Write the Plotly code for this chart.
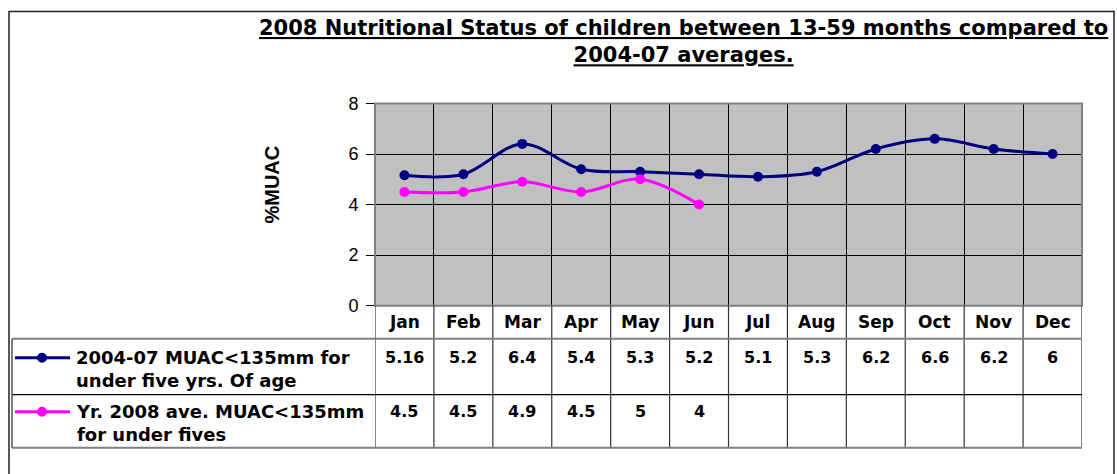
import plotly.graph_objects as go

months = ["Jan", "Feb", "Mar", "Apr", "May", "Jun", "Jul", "Aug", "Sep", "Oct", "Nov", "Dec"]
avg_0407 = [5.16, 5.2, 6.4, 5.4, 5.3, 5.2, 5.1, 5.3, 6.2, 6.6, 6.2, 6]
yr_2008 = [4.5, 4.5, 4.9, 4.5, 5, 4, None, None, None, None, None, None]
series_names = ["2004-07 MUAC&lt;135mm for<br>under five yrs. Of age",
                "Yr. 2008 ave. MUAC&lt;135mm<br>for under fives"]
series_colors = ["#000080", "#FF00FF"]
y_ticks = [0, 2, 4, 6, 8]
title_lines = ["2008 Nutritional Status of children between 13-59 months compared to",
               "2004-07 averages."]

W, H = 1117, 474
# the photographed page shows figure rows compressed (y_screen ~ 9.6 + 0.957*y_fig);
# positions below are given in screen pixels and mapped back.
def px(x):
    return x / W
def py(y):
    yf = (y - 9.6) / 0.957
    return 1 - yf / H

PL, PR, PT, PB = 375, 1082, 103, 305   # plot area in screen pixels
ROW_TOP = [338, 394]
TBL_BOT = 447
ROW_CENTER = [357, 411]
BOLD = "DejaVu Sans"

xs = list(range(len(months)))
fig = go.Figure()
for vals, col in zip([avg_0407, yr_2008], series_colors):
    fig.add_trace(go.Scatter(
        x=xs, y=vals, mode="lines+markers",
        line=dict(color=col, width=3, shape="spline", smoothing=1),
        marker=dict(color=col, size=10),
        connectgaps=False, showlegend=False, hoverinfo="skip"))

shapes = []
annotations = []

# outer chart border
shapes.append(dict(type="rect", xref="paper", yref="paper",
                   x0=px(9), x1=px(1114), y0=py(500), y1=py(11),
                   line=dict(color="#222222", width=1.5)))
# plot border
shapes.append(dict(type="rect", xref="paper", yref="paper",
                   x0=px(PL), x1=px(PR), y0=py(PB), y1=py(PT),
                   line=dict(color="#808080", width=2), layer="above"))

# table column lines (one per category boundary)
for k in range(len(months) + 1):
    shapes.append(dict(type="line", xref="x", yref="paper",
                       x0=k - 0.5, x1=k - 0.5, y0=py(TBL_BOT), y1=py(PB),
                       line=dict(color="#333333", width=1.2)))
# table row lines
for yy, colr, wd in [(ROW_TOP[0], "#808080", 2), (ROW_TOP[1], "#000000", 1.2), (TBL_BOT, "#808080", 2)]:
    shapes.append(dict(type="line", xref="paper", yref="paper",
                       x0=px(12), x1=px(PR), y0=py(yy), y1=py(yy),
                       line=dict(color=colr, width=wd)))
shapes.append(dict(type="line", xref="paper", yref="paper",
                   x0=px(12), x1=px(12), y0=py(TBL_BOT), y1=py(ROW_TOP[0]),
                   line=dict(color="#555555", width=1.5)))

# legend keys in table
for r, col in enumerate(series_colors):
    yc = ROW_CENTER[r]
    shapes.append(dict(type="line", xref="paper", yref="paper",
                       x0=px(15), x1=px(70), y0=py(yc), y1=py(yc),
                       line=dict(color=col, width=3)))
    shapes.append(dict(type="circle", xref="paper", yref="paper",
                       x0=px(37), x1=px(47), y0=py(yc + 5), y1=py(yc - 5),
                       fillcolor=col, line=dict(color=col, width=0)))
    annotations.append(dict(xref="paper", yref="paper", x=px(74), y=py(yc - 13),
                            xanchor="left", yanchor="top", align="left", showarrow=False,
                            text="<b>" + series_names[r] + "</b>",
                            font=dict(family=BOLD, size=18, color="black")))

# month header cells
for i, m in enumerate(months):
    annotations.append(dict(xref="x", yref="paper", x=i, y=py(321), showarrow=False,
                            xanchor="center", yanchor="middle", text="<b>" + m + "</b>",
                            font=dict(family=BOLD, size=17, color="black")))
# value cells
for r, vals in enumerate([avg_0407, yr_2008]):
    for i, v in enumerate(vals):
        if v is None:
            continue
        annotations.append(dict(xref="x", yref="paper", x=i, y=py(ROW_CENTER[r]), showarrow=False,
                                xanchor="center", yanchor="middle", text="<b>%s</b>" % format(v, "g"),
                                font=dict(family=BOLD, size=16, color="black")))

# title
annotations.append(dict(xref="paper", yref="paper", x=px(683), y=py(13.3), showarrow=False,
                        xanchor="center", yanchor="top", align="center",
                        text="<br>".join("<b><u>%s</u></b>" % t for t in title_lines),
                        font=dict(family=BOLD, size=21, color="black")))
# y-axis title
annotations.append(dict(xref="paper", yref="paper", x=px(272), y=py(184), showarrow=False,
                        xanchor="center", yanchor="middle", textangle=-90,
                        text="<b>%MUAC</b>",
                        font=dict(family="Liberation Sans, Arial", size=20, color="black")))

fig.update_layout(
    width=W, height=H, margin=dict(l=0, r=0, t=0, b=0),
    paper_bgcolor="white", plot_bgcolor="#C0C0C0",
    shapes=shapes, annotations=annotations, showlegend=False,
    xaxis=dict(domain=[px(PL), px(PR)], range=[-0.5, len(months) - 0.5],
               tickvals=[k + 0.5 for k in range(len(months) - 1)],
               showticklabels=False, ticks="", showgrid=True, gridcolor="black", gridwidth=1,
               zeroline=False, showline=False, fixedrange=True),
    yaxis=dict(domain=[py(PB), py(PT)], range=[0, 8], tickvals=y_ticks,
               ticks="outside", ticklen=8, tickcolor="black", tickwidth=1.2,
               showgrid=True, gridcolor="black", gridwidth=1, zeroline=False,
               showline=False, ticklabelstandoff=4,
               tickfont=dict(family="Liberation Sans, Arial", size=18, color="black"),
               fixedrange=True),
)

fig.write_html("out.html", config={"displayModeBar": False},
               post_script="document.body.style.margin='0';document.body.style.overflow='hidden';")
